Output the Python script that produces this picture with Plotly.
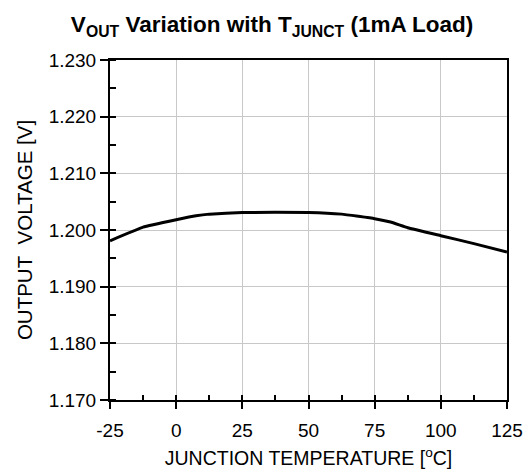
import plotly.graph_objects as go

temps = [-25, -12.5, 0, 7.5, 12.5, 25, 50, 62.5, 75, 81, 87.5, 100, 112.5, 125]
vout = [1.1981, 1.2005, 1.2018, 1.2025, 1.2028, 1.2031, 1.2031, 1.2028, 1.2020, 1.2014, 1.2004, 1.1990, 1.1976, 1.1961]

x_ticks = [-25, 0, 25, 50, 75, 100, 125]
y_ticks = [1.170, 1.180, 1.190, 1.200, 1.210, 1.220, 1.230]
y_labels = ["%.3f" % v for v in y_ticks]

FONT = "Liberation Sans, Arial, sans-serif"

fig = go.Figure()
fig.add_trace(go.Scatter(x=temps, y=vout, mode="lines",
                         line=dict(color="black", width=3, shape="spline", smoothing=0.3),
                         showlegend=False, hoverinfo="skip"))
# invisible trace for overlay axis
fig.add_trace(go.Scatter(x=[-25, 125], y=[1.17, 1.23], mode="markers", marker=dict(opacity=0),
                         xaxis="x2", showlegend=False, hoverinfo="skip"))

fig.update_layout(
    width=523, height=461,
    margin=dict(l=102, r=24, t=52, b=69),
    paper_bgcolor="white", plot_bgcolor="white",
    font=dict(family=FONT, size=19, color="black"),
    title=dict(text="<b>V<sub>OUT</sub> Variation with T<sub>JUNCT</sub> (1mA Load)</b>",
               x=0.505, xanchor="center", y=0.965, yanchor="middle",
               font=dict(family=FONT, size=22.5, color="black")),
    xaxis=dict(range=[-25, 125], tickvals=x_ticks, ticktext=[str(v) for v in x_ticks],
               ticks="outside", ticklen=7, tickwidth=1.5, tickcolor="black",
               ticklabelstandoff=5, automargin=False,
               showline=True, linecolor="black", linewidth=2, mirror=True,
               showgrid=True, gridcolor="#c8c8c8", gridwidth=1, zeroline=False,
               title=dict(text="JUNCTION TEMPERATURE [<sup>o</sup>C]", standoff=12,
                          font=dict(size=19.5)),
               tickfont=dict(size=19)),
    xaxis2=dict(range=[-25, 125], overlaying="x", side="bottom", anchor="y",
                dtick=12.5, tick0=-25, ticks="inside", ticklen=5, tickwidth=1.5,
                tickcolor="black", showticklabels=False, showgrid=False,
                showline=False, zeroline=False, automargin=False),
    yaxis=dict(range=[1.170, 1.230], tickvals=y_ticks, ticktext=y_labels,
               ticks="outside", ticklen=8, tickwidth=1.5, tickcolor="black",
               automargin=False,
               minor=dict(dtick=0.005, tick0=1.170, ticks="inside", ticklen=6,
                          tickwidth=1.5, tickcolor="black", showgrid=False),
               showline=True, linecolor="black", linewidth=2, mirror=True,
               showgrid=True, gridcolor="#c8c8c8", gridwidth=1, zeroline=False,
               title=dict(text="OUTPUT\u00a0 VOLTAGE [V]", standoff=10, font=dict(size=20.5)),
               tickfont=dict(size=19)),
)

fig.write_html("out.html")
